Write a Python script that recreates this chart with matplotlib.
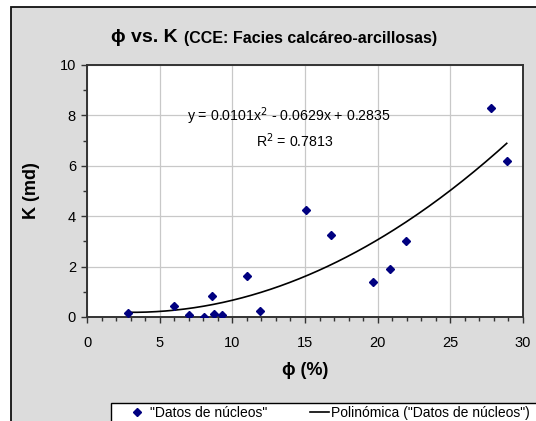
import numpy as np
import matplotlib
matplotlib.use("Agg")
from matplotlib import pyplot as plt
from matplotlib.patches import Rectangle
from matplotlib.ticker import MultipleLocator

plt.rcParams['font.family'] = ['Liberation Sans', 'DejaVu Sans']

# porosity (%) and permeability (md)
phi = [2.80, 5.97, 7.04, 8.03, 8.60, 8.72, 9.31, 11.01, 11.90, 15.06, 16.78,
       19.69, 20.88, 21.94, 27.78, 28.88]
k_md = [0.14, 0.43, 0.08, 0.00, 0.84, 0.13, 0.08, 1.63, 0.23, 4.24, 3.24,
        1.37, 1.89, 3.03, 8.31, 6.18]
coef = [0.0101, -0.0629, 0.2835]   # trend line shown on the chart

eq_text = "y = 0.0101x$^2$ - 0.0629x + 0.2835"
r2_text = "R$^2$ = 0.7813"

W, H = 536, 421
fig = plt.figure(figsize=(W / 100, H / 100), dpi=100)
fig.patch.set_facecolor('white')

# chart area background + border
fig.patches.append(Rectangle((11 / W, -0.1), 1.2, 1 - 7.5 / H + 0.1,
                             transform=fig.transFigure, facecolor='#dcdcdc',
                             edgecolor='#111111', linewidth=1.3, zorder=-10))
# legend box (runs off the bottom/right edge like the original)
fig.patches.append(Rectangle((111 / W, -0.1), 1.0, 1 - 403 / H + 0.1,
                             transform=fig.transFigure, facecolor='white',
                             edgecolor='black', linewidth=1.0, zorder=-5))

ax = fig.add_axes([87 / W, 1 - 317 / H, 436 / W, 252 / H])
ax.set_facecolor('white')

xs = np.linspace(min(phi), max(phi), 200)
ax.plot(xs, np.polyval(coef, xs), color='black', lw=1.2,
        label='Polinómica ("Datos de núcleos")', zorder=3)
ax.plot(phi, k_md, 'D', color='#000080', ms=4.5, ls='none',
        label='"Datos de núcleos"', zorder=4)

ax.set_xlim(0, 30)
ax.set_ylim(0, 10)
ax.xaxis.set_major_locator(MultipleLocator(5))
ax.xaxis.set_minor_locator(MultipleLocator(1))
ax.yaxis.set_major_locator(MultipleLocator(2))
ax.yaxis.set_minor_locator(MultipleLocator(1))
ax.grid(True, which='major', color='#c8c8c8', lw=0.9)
ax.set_axisbelow(True)
ax.tick_params(which='both', direction='out', color='#333333', width=1.0,
               labelsize=10.5, pad=4)
ax.tick_params(which='major', length=4)
ax.tick_params(which='minor', length=3)
ax.tick_params(axis='x', pad=10)
for s in ax.spines.values():
    s.set_color('#333333')
    s.set_linewidth(1.4)

ax.set_xlabel('ϕ (%)', fontsize=13, fontweight='bold', labelpad=8)
ax.set_ylabel('K (md)', fontsize=13, fontweight='bold', labelpad=14)

ax.text(0.464, 0.795, eq_text, transform=ax.transAxes, ha='center',
        va='center', fontsize=10.2)
ax.text(0.477, 0.70, r2_text, transform=ax.transAxes, ha='center',
        va='center', fontsize=10.2)

# title in two sizes
fig.text(178 / W, 1 - 38 / H, 'ϕ vs. K', ha='right', va='center',
         fontsize=14, fontweight='bold')
fig.text(184 / W, 1 - 39 / H, '(CCE: Facies calcáreo-arcillosas)',
         ha='left', va='center', fontsize=11.5, fontweight='bold')

h, l = ax.get_legend_handles_labels()
leg = fig.legend(h[::-1], l[::-1], loc='center left',
                 bbox_to_anchor=(128 / W, 1 - 413 / H), ncol=2,
                 fontsize=10, frameon=False, borderpad=0, borderaxespad=0,
                 handlelength=1.35, handletextpad=0.2, columnspacing=3.1)

fig.savefig('out.png', dpi=100)
